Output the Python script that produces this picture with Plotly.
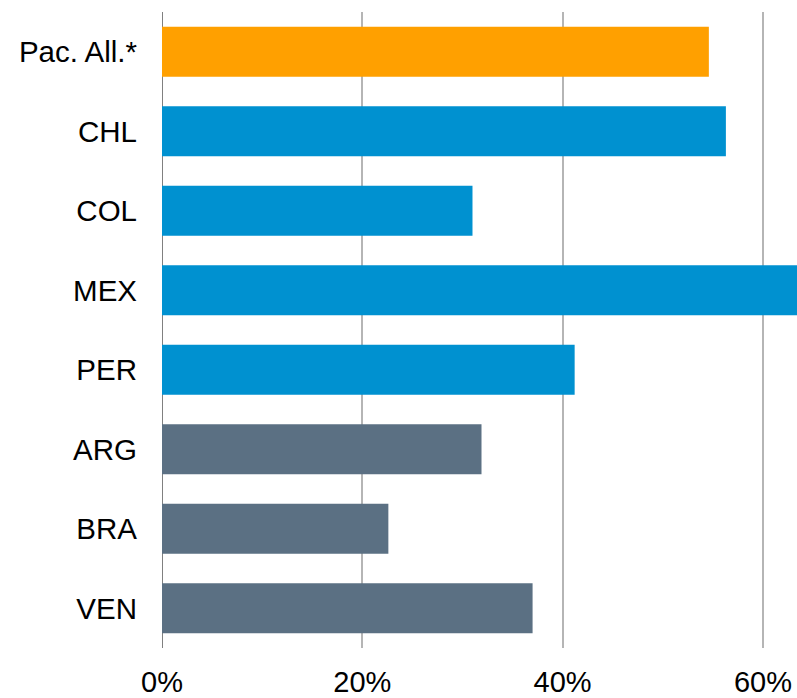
import plotly.graph_objects as go

# Share of value (%) by country / bloc
categories = ["Pac. All.*", "CHL", "COL", "MEX", "PER", "ARG", "BRA", "VEN"]
values = [54.6, 56.3, 31.0, 64.5, 41.2, 31.9, 22.6, 37.0]
groups = ["bloc", "pacific", "pacific", "pacific", "pacific", "other", "other", "other"]

group_colors = {"bloc": "#FFA000", "pacific": "#0091D0", "other": "#5B7083"}
tick_vals = [0, 20, 40, 60]
tick_text = ["0%", "20%", "40%", "60%"]

fig = go.Figure(
    go.Bar(
        x=values,
        y=categories,
        orientation="h",
        width=0.63,
        marker=dict(color=[group_colors[g] for g in groups], line=dict(width=0)),
        hoverinfo="skip",
    )
)

fig.update_layout(
    width=797,
    height=698,
    margin=dict(l=162, r=0, t=12, b=50),
    paper_bgcolor="white",
    plot_bgcolor="white",
    font=dict(family="Liberation Sans, Arial, sans-serif", size=29, color="black"),
    showlegend=False,
    bargap=0.37,
)

fig.update_xaxes(
    range=[0, 63.4],
    tickvals=tick_vals,
    ticktext=tick_text,
    showgrid=True,
    gridcolor="#b5b5b5",
    gridwidth=1.5,
    zeroline=True,
    zerolinecolor="#808080",
    zerolinewidth=1.2,
    showline=False,
    ticks="",
    ticklabelstandoff=14,
    tickfont=dict(size=29),
)

fig.update_yaxes(
    categoryorder="array",
    categoryarray=categories,
    autorange="reversed",
    showgrid=False,
    zeroline=False,
    showline=False,
    ticks="",
    ticklabelstandoff=24,
    tickfont=dict(size=29.5),
)

fig.write_html("out.html")
